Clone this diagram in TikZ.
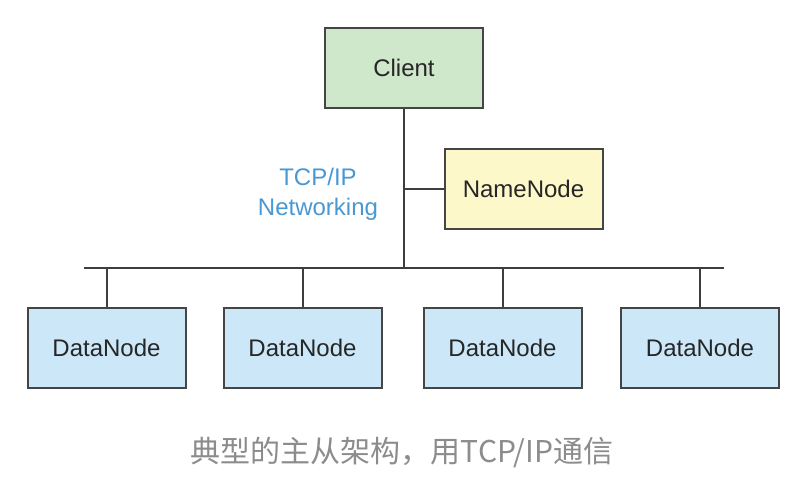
\documentclass[tikz,border=0pt]{standalone}
\usepackage{fontspec}
\setmainfont{Liberation Sans}
\newfontfamily\cjkfont{Noto Sans CJK SC}
\definecolor{clientfill}{HTML}{CFE7CB}
\definecolor{namefill}{HTML}{FDF8CA}
\definecolor{datafill}{HTML}{CBE7F8}
\definecolor{boxline}{HTML}{454545}
\definecolor{netblue}{HTML}{4A98D2}
\definecolor{capgray}{HTML}{8C8C8C}
\tikzset{
  box/.style={draw=boxline, line width=1pt, minimum width=79pt, minimum height=40pt,
    inner sep=0pt, text=black!85, font=\fontsize{12}{14}\selectfont},
  wire/.style={draw=boxline!90!black, line width=1pt}
}
\begin{document}
\begin{tikzpicture}[x=0.5pt,y=-0.5pt]
        \useasboundingbox (0,0) rectangle (800,479);
        \node [box, fill=clientfill] (client) at (404,68) {Client};
        \node [box, fill=namefill] (namenode) at (523.5,188.5) {NameNode};
        \node [text=netblue, align=center, font=\fontsize{12}{15}\selectfont] (net) at (318,194) {TCP/IP\\Networking};
        \coordinate (busl) at (84,268);
        \coordinate (busr) at (724,268);
        \coordinate (busc) at (404,268);
        \draw [wire] (busl) -- (busr);
        \draw [wire] (client.south) -- (busc);
        \draw [wire] (namenode.west) -- (namenode.west -| client.south);
        \foreach \i/\x in {1/106.5,2/302.5,3/502.5,4/700}
        {
          \node [box, fill=datafill] (data\i) at (\x,347.5) {DataNode};
          \draw [wire] (data\i.north) -- (data\i.north |- busl);
        }
        \node [text=capgray, font=\cjkfont\fontsize{15}{17}\selectfont] (caption) at (402,453) {典型的主从架构，用TCP/IP通信};
\end{tikzpicture}
\end{document}
